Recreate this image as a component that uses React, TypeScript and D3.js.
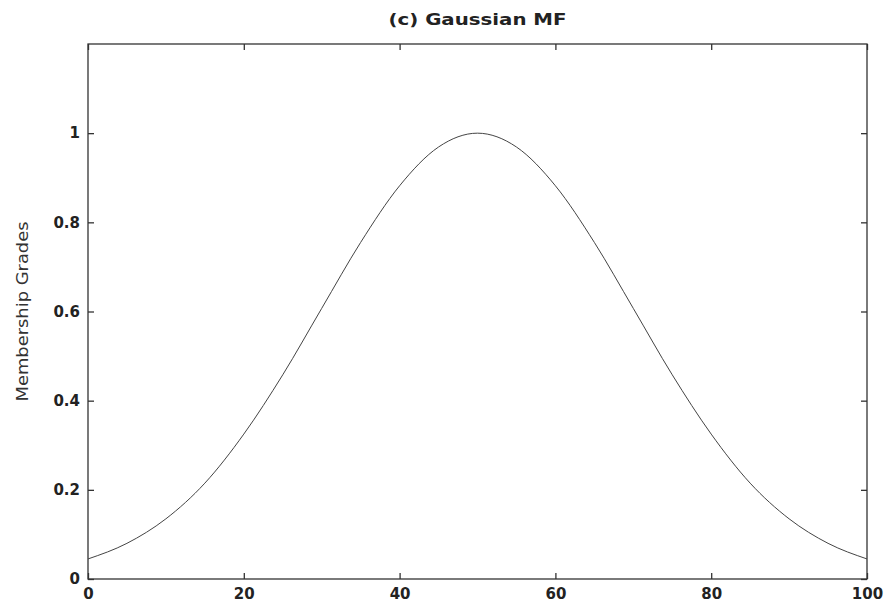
import React, { useRef, useEffect } from "react";
import * as d3 from "d3";

// values
const xs = [0, 5, 10, 15, 20, 25, 30, 35, 40, 45, 50, 55, 60, 65, 70, 75, 80, 85, 90, 95, 100];
const grades = [0.045, 0.08, 0.135, 0.215, 0.325, 0.458, 0.607, 0.755, 0.882, 0.969, 1.0, 0.969, 0.882, 0.755, 0.607, 0.458, 0.325, 0.215, 0.135, 0.08, 0.045];
const xTicks = [0, 20, 40, 60, 80, 100];
const yTicks = [0, 0.2, 0.4, 0.6, 0.8, 1];
const title = "(c) Gaussian MF";
const yLabel = "Membership Grades";

const App = () => {
  const container = useRef<SVGSVGElement>(null);

  const width = 887;
  const height = 603;
  const left = 88, right = 867, top = 44, bottom = 579;

  useEffect(() => {
    const svg = d3.select(container.current);
    svg.selectAll("*").remove();

    const xScale = d3.scaleLinear().domain([0, 100]).range([left, right]);
    const yScale = d3.scaleLinear().domain([0, 1.2]).range([bottom, top]);

    const font = "'DejaVu Sans', Arial, sans-serif";
    const tickLen = 6;

    // frame
    svg.append("rect")
      .attr("x", left).attr("y", top)
      .attr("width", right - left).attr("height", bottom - top)
      .attr("fill", "white")
      .attr("stroke", "#333")
      .attr("stroke-width", 1.3);

    // bottom / top axes, ticks pointing inward
    const bottomAxis = svg.append("g")
      .attr("transform", `translate(0, ${bottom})`)
      .call(d3.axisBottom(xScale).tickValues(xTicks).tickSizeInner(-tickLen).tickSizeOuter(0).tickPadding(9).tickFormat(d3.format("d")));
    const topAxis = svg.append("g")
      .attr("transform", `translate(0, ${top})`)
      .call(d3.axisTop(xScale).tickValues(xTicks).tickSizeInner(-tickLen).tickSizeOuter(0).tickFormat(() => ""));
    const leftAxis = svg.append("g")
      .attr("transform", `translate(${left}, 0)`)
      .call(d3.axisLeft(yScale).tickValues(yTicks).tickSizeInner(-tickLen).tickSizeOuter(0).tickPadding(8).tickFormat(d => String(+d)));
    const rightAxis = svg.append("g")
      .attr("transform", `translate(${right}, 0)`)
      .call(d3.axisRight(yScale).tickValues(yTicks).tickSizeInner(-tickLen).tickSizeOuter(0).tickFormat(() => ""));

    [bottomAxis, topAxis, leftAxis, rightAxis].forEach(g => {
      g.select(".domain").remove();
      g.selectAll("line").attr("stroke", "#333").attr("stroke-width", 1.3);
      g.selectAll("text")
        .attr("fill", "#222")
        .style("font-family", font)
        .style("font-size", "15px")
        .style("font-weight", "bold");
    });

    // curve
    const line = d3.line<number>()
      .x((d, i) => xScale(xs[i]))
      .y(d => yScale(d))
      .curve(d3.curveMonotoneX);

    svg.append("path")
      .datum(grades)
      .attr("d", line)
      .attr("fill", "none")
      .attr("stroke", "#444")
      .attr("stroke-width", 1);

    // title
    svg.append("text")
      .attr("x", (left + right) / 2)
      .attr("y", 25)
      .attr("text-anchor", "middle")
      .attr("textLength", 178)
      .attr("lengthAdjust", "spacingAndGlyphs")
      .style("font-family", font)
      .style("font-size", "15px")
      .style("font-weight", "bold")
      .attr("fill", "#222")
      .text(title);

    // y label
    svg.append("text")
      .attr("transform", `translate(28, ${(top + bottom) / 2}) rotate(-90)`)
      .attr("text-anchor", "middle")
      .attr("textLength", 180)
      .attr("lengthAdjust", "spacingAndGlyphs")
      .style("font-family", font)
      .style("font-size", "15px")
      .attr("fill", "#333")
      .text(yLabel);
  }, []);

  return (
    <div style={{ position: "absolute", top: 0, left: 0, width: width, height: height, background: "white" }}>
      <svg ref={container} width={width} height={height} />
    </div>
  );
};

export default App;
